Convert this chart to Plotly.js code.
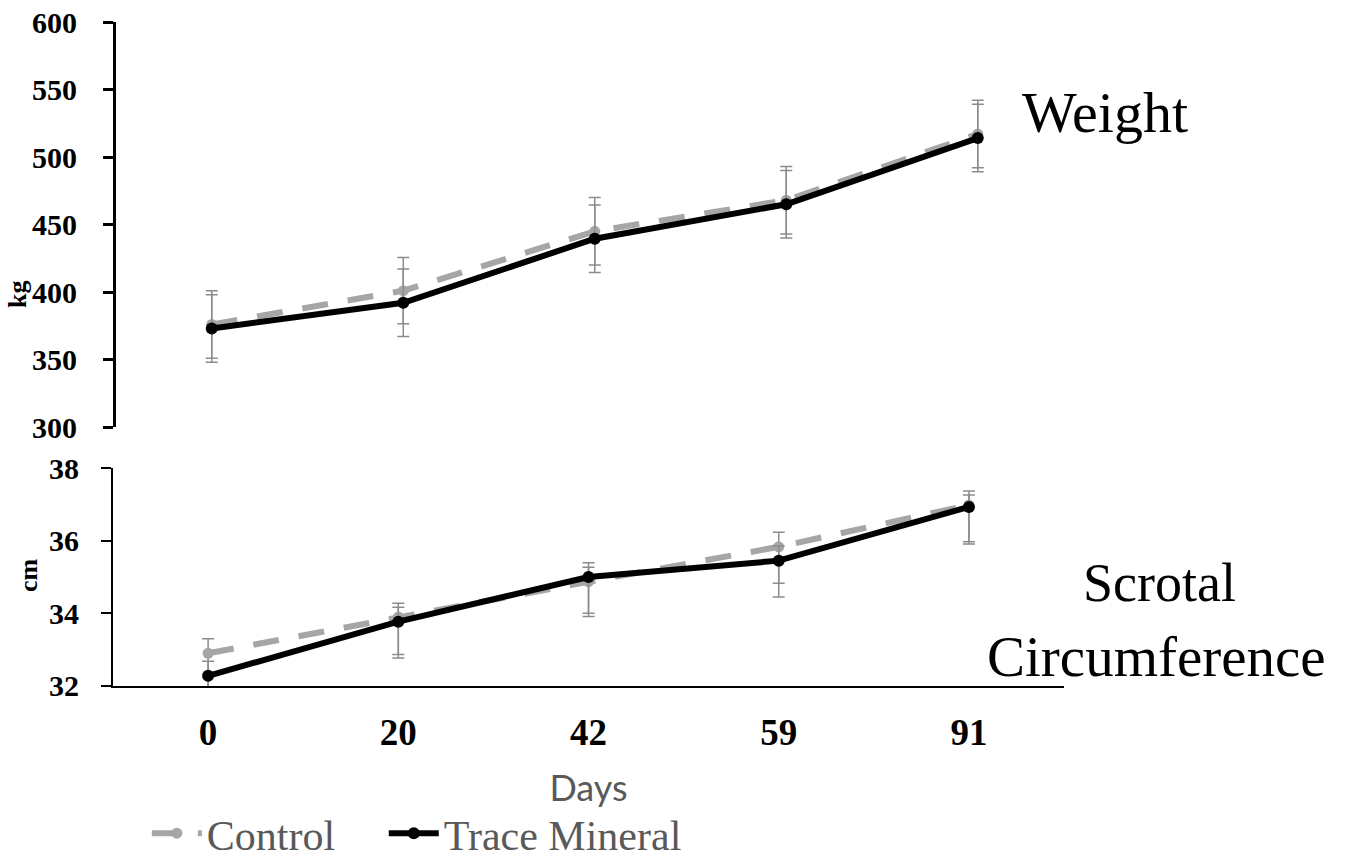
<!DOCTYPE html>
<html>
<head>
<meta charset="utf-8">
<script src="https://cdn.plot.ly/plotly-3.0.1.min.js"></script>
<style>html,body{margin:0;padding:0;background:#fff;}#chart{width:1352px;height:859px;}</style>
</head>
<body>
<div id="chart"></div>
<script>
// Categories (days)
const days = ['0', '20', '42', '59', '91'];

// Weight (kg)
const weightControl = [376, 401, 445, 468, 517];
const weightControlSE = [25, 24.5, 25, 25, 25];
const weightTrace = [373, 392, 439.5, 465, 514];
const weightTraceSE = [25, 25, 25, 25, 25];

// Scrotal circumference (cm)
const scControl = [32.9, 33.9, 34.87, 35.83, 36.98];
const scControlPlus = [0.4, 0.38, 0.4, 0.4, 0.39];
const scControlMinus = [1.0, 1.03, 0.96, 1.0, 1.01];
const scTrace = [32.28, 33.77, 35.0, 35.45, 36.93];
const scTracePlus = [0.4, 0.4, 0.39, 0.4, 0.33];
const scTraceMinus = [1.0, 1.0, 1.0, 1.0, 1.02];

const gray = '#A6A6A6';
const errColor = '#8C8C8C';
const serif = 'Liberation Serif, Times New Roman, serif';

function errSym(arr) {
  return {type: 'data', array: arr, visible: true, color: errColor, thickness: 1.5, width: 6};
}
function errAsym(plus, minus) {
  return {type: 'data', symmetric: false, array: plus, arrayminus: minus, visible: true, color: errColor, thickness: 1.5, width: 6};
}

const traces = [
  {x: days, y: weightControl, xaxis: 'x2', yaxis: 'y2', mode: 'lines+markers', name: 'Control', showlegend: false,
   line: {color: gray, width: 6, dash: '26px,20px'}, marker: {color: gray, size: 11}, error_y: errSym(weightControlSE)},
  {x: days, y: weightTrace, xaxis: 'x2', yaxis: 'y2', mode: 'lines+markers', name: 'Trace Mineral', showlegend: false,
   line: {color: '#000', width: 6}, marker: {color: '#000', size: 12}, error_y: errSym(weightTraceSE)},
  {x: days, y: scControl, xaxis: 'x', yaxis: 'y', mode: 'lines+markers', name: 'Control', legend: 'legend',
   line: {color: gray, width: 6, dash: '26px,20px'}, marker: {color: gray, size: 11}, error_y: errAsym(scControlPlus, scControlMinus)},
  {x: days, y: scTrace, xaxis: 'x', yaxis: 'y', mode: 'lines+markers', name: 'Trace Mineral', legend: 'legend2',
   line: {color: '#000', width: 6}, marker: {color: '#000', size: 12}, error_y: errAsym(scTracePlus, scTraceMinus)}
];

const legendFont = {family: serif, size: 42, color: '#595959'};

const layout = {
  width: 1352, height: 859,
  margin: {l: 113, r: 272, t: 22, b: 173, autoexpand: false},
  paper_bgcolor: '#fff', plot_bgcolor: 'rgba(0,0,0,0)',
  showlegend: true,
  legend: {orientation: 'h', x: 0.035, y: -0.222, xanchor: 'left', yanchor: 'middle', font: legendFont, itemwidth: 50},
  legend2: {orientation: 'h', x: 0.28, y: -0.222, xanchor: 'left', yanchor: 'middle', font: legendFont, itemwidth: 50},
  xaxis: {type: 'category', domain: [0, 0.9835], range: [-0.5, 4.5], anchor: 'y',
          showline: true, linecolor: '#000', linewidth: 2, ticks: '', showgrid: false, zeroline: false,
          tickfont: {family: serif, size: 37, color: '#000', weight: 'bold'}, ticklabelstandoff: 13,
          title: {text: 'Days', font: {family: 'Lato, sans-serif', size: 36, color: '#595959'}, standoff: 23}},
  yaxis: {domain: [0, 0.3283], range: [32, 38], tickvals: [32, 34, 36, 38], anchor: 'x',
          showline: true, linecolor: '#000', linewidth: 2, ticks: 'outside', ticklen: 10, tickwidth: 2, tickcolor: '#000',
          showgrid: false, zeroline: false, tickfont: {family: serif, size: 30, color: '#000', weight: 'bold'}, ticklabelstandoff: 16},
  xaxis2: {type: 'category', domain: [0.0031, 0.9933], range: [-0.5, 4.5], anchor: 'y2',
           showline: false, showticklabels: false, ticks: '', showgrid: false, zeroline: false},
  yaxis2: {domain: [0.39, 1], range: [300, 600], tickvals: [300, 350, 400, 450, 500, 550, 600], anchor: 'x2',
           showline: true, linecolor: '#000', linewidth: 3, ticks: 'outside', ticklen: 10, tickwidth: 3, tickcolor: '#000',
           showgrid: false, zeroline: false, tickfont: {family: serif, size: 30, color: '#000', weight: 'bold'}, ticklabelstandoff: 20},
  annotations: [
    {text: 'Weight', xref: 'paper', yref: 'paper', x: 1.0258, y: 0.863, xanchor: 'center', yanchor: 'middle', showarrow: false,
     font: {family: serif, size: 58, color: '#000'}},
    {text: 'Scrotal', xref: 'paper', yref: 'paper', x: 1.0827, y: 0.155, xanchor: 'center', yanchor: 'middle', showarrow: false,
     font: {family: serif, size: 54, color: '#000'}},
    {text: 'Circumference', xref: 'paper', yref: 'paper', x: 1.0796, y: 0.0437, xanchor: 'center', yanchor: 'middle', showarrow: false,
     font: {family: serif, size: 57, color: '#000'}},
    {text: '<b>kg</b>', xref: 'paper', yref: 'paper', x: -0.0982, y: 0.589, xanchor: 'center', yanchor: 'middle', showarrow: false,
     textangle: -90, font: {family: serif, size: 26, color: '#000'}},
    {text: '<b>cm</b>', xref: 'paper', yref: 'paper', x: -0.0879, y: 0.167, xanchor: 'center', yanchor: 'middle', showarrow: false,
     textangle: -90, font: {family: serif, size: 26, color: '#000'}}
  ]
};

Plotly.newPlot('chart', traces, layout, {displayModeBar: false, staticPlot: true});
</script>
</body>
</html>
